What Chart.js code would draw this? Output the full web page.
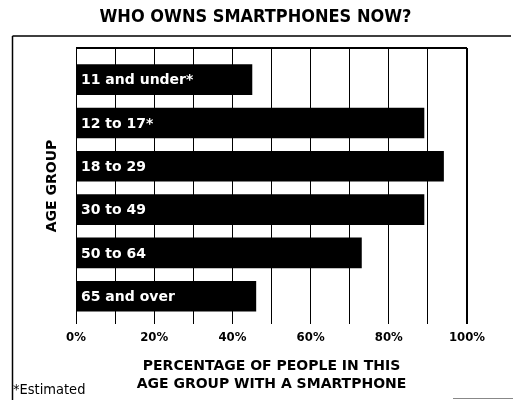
<!DOCTYPE html>
<html>
<head>
<meta charset="utf-8">
<script src="https://cdn.jsdelivr.net/npm/chart.js@4"></script>
<style>
  html, body { margin: 0; padding: 0; background: #fff; }
  #wrap { width: 513px; height: 400px; }
</style>
</head>
<body>
<div id="wrap"><canvas id="phoneChart" width="513" height="400"></canvas></div>
<script>
const ageGroups = ["11 and under*", "12 to 17*", "18 to 29", "30 to 49", "50 to 64", "65 and over"];
const ownership = [45, 89, 94, 89, 73, 46];
const tickLabels = ["0%", "20%", "40%", "60%", "80%", "100%"];

const SANS = "'DejaVu Sans', sans-serif";
Chart.defaults.color = "#000";

// outer frame lines, footnote and the white labels inside the bars
const decorations = {
  id: "decorations",
  beforeDraw(chart) {
    const c = chart.ctx;
    c.save();
    c.strokeStyle = "#000";
    c.lineWidth = 1.5;
    c.beginPath();
    c.moveTo(12.5, 36);
    c.lineTo(511, 36);
    c.moveTo(12.5, 36);
    c.lineTo(12.5, 400);
    c.stroke();
    c.strokeStyle = "#888";
    c.lineWidth = 1;
    c.beginPath();
    c.moveTo(453, 398.5);
    c.lineTo(513, 398.5);
    c.stroke();
    c.fillStyle = "#000";
    c.font = "condensed 14.5px " + SANS;
    c.textBaseline = "middle";
    c.fillText("*Estimated", 13, 390);
    c.restore();
  },
  afterDatasetsDraw(chart) {
    const c = chart.ctx;
    const meta = chart.getDatasetMeta(0);
    c.save();
    c.fillStyle = "#fff";
    c.font = "bold 14px " + SANS;
    c.textBaseline = "middle";
    meta.data.forEach((bar, i) => {
      c.fillText(ageGroups[i], chart.chartArea.left + 5, bar.y + 1);
    });
    // top border of the plot
    c.strokeStyle = "#000";
    c.lineWidth = 2;
    c.beginPath();
    c.moveTo(chart.chartArea.left, chart.chartArea.top);
    c.lineTo(chart.chartArea.right, chart.chartArea.top);
    c.stroke();
    c.restore();
  }
};

new Chart(document.getElementById("phoneChart"), {
  type: "bar",
  data: {
    datasets: [{
      data: ownership.map((v, i) => ({ x: v, y: i })),
      backgroundColor: "#000",
      borderWidth: 0,
      barThickness: 30
    }]
  },
  options: {
    indexAxis: "y",
    responsive: false,
    devicePixelRatio: 1,
    animation: false,
    layout: { padding: { left: 44, right: 46, top: 0, bottom: 0 } },
    plugins: {
      legend: { display: false },
      tooltip: { enabled: false },
      title: {
        display: true,
        text: "WHO OWNS SMARTPHONES NOW?",
        font: { family: SANS, size: 18, weight: "bold condensed", lineHeight: 1.2 },
        padding: { top: 7, bottom: 19.4 }
      }
    },
    scales: {
      x: {
        type: "linear",
        min: 0,
        max: 100,
        afterFit: s => { s.height = 76; },
        ticks: {
          stepSize: 10,
          padding: 6,
          autoSkip: false,
          maxRotation: 0,
          minRotation: 0,
          font: { family: SANS, size: 13, weight: "bold condensed" },
          callback: v => (v % 20 === 0 ? tickLabels[v / 20] : "")
        },
        grid: {
          color: "#000",
          lineWidth: ctx => (ctx.tick && ctx.tick.value === 100 ? 2 : 1),
          drawTicks: false
        },
        border: { display: false },
        title: {
          display: true,
          text: ["PERCENTAGE OF PEOPLE IN THIS", "AGE GROUP WITH A SMARTPHONE"],
          font: { family: SANS, size: 14, weight: "bold", lineHeight: "18px" },
          padding: { top: 0, bottom: 7 }
        }
      },
      y: {
        type: "linear",
        min: -0.73,
        max: 5.64,
        reverse: true,
        offset: false,
        afterFit: s => { s.width = 32; },
        ticks: { display: false },
        grid: { display: false, drawTicks: false, offset: false },
        border: { display: false },
        title: {
          display: true,
          text: "AGE GROUP",
          font: { family: SANS, size: 14, weight: "bold", lineHeight: 1.2 },
          padding: { top: 0, bottom: 15 }
        }
      }
    }
  },
  plugins: [decorations]
});
</script>
</body>
</html>
